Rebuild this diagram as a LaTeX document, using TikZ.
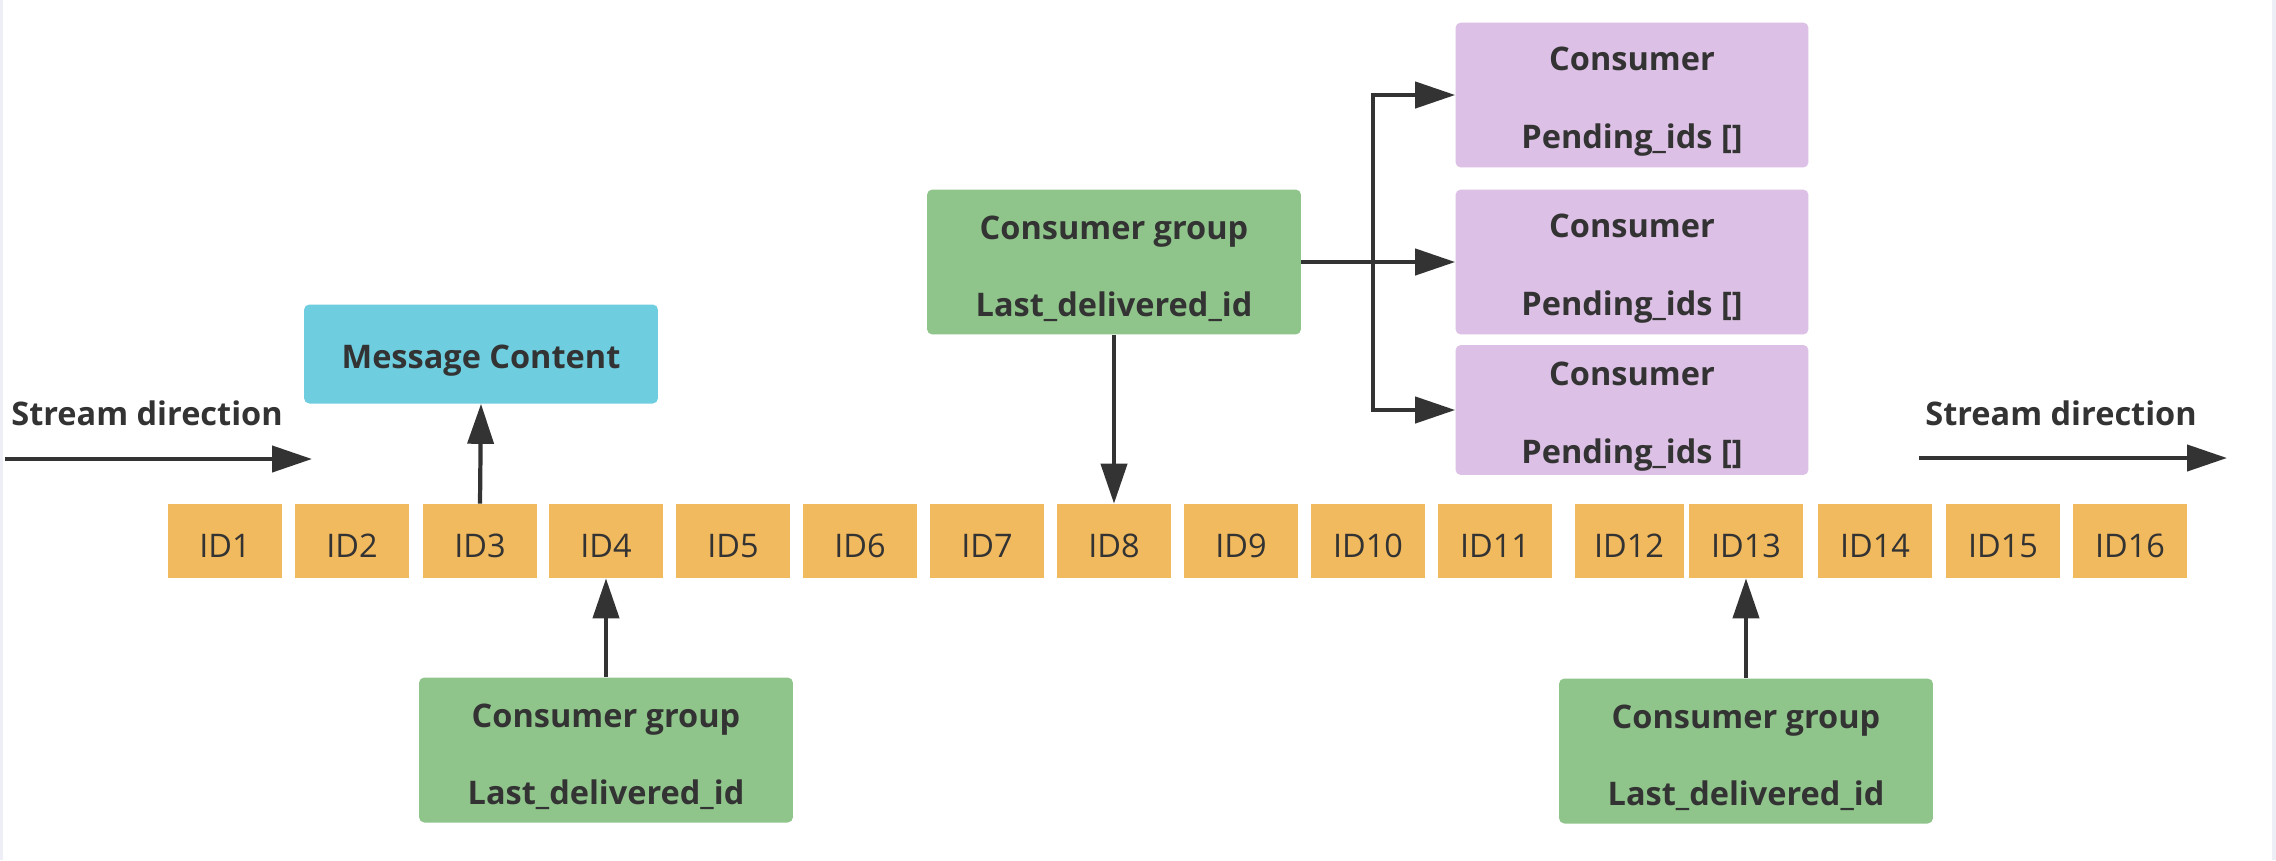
\documentclass[tikz,border=0pt]{standalone}
\usepackage{fontspec}
\setmainfont{Open Sans}
\usetikzlibrary{positioning,arrows.meta}
\definecolor{idorange}{RGB}{242,186,94}
\definecolor{grpgreen}{RGB}{143,197,139}
\definecolor{msgcyan}{RGB}{110,205,222}
\definecolor{conpurple}{RGB}{220,192,229}
\definecolor{inkgray}{RGB}{51,51,51}
\definecolor{edgegray}{RGB}{238,238,246}
\newcommand{\padtop}{\rule{0pt}{21pt}}

\begin{document}
\begin{tikzpicture}[x=0.02cm,y=-0.02cm,
        idbox/.style={fill=idorange,minimum width=2.28cm,minimum height=1.48cm,inner sep=0pt,text height=19pt,text depth=0pt,text=inkgray,font=\fontsize{18.5}{22}\selectfont},
        box/.style={rounded corners=3pt,inner sep=0pt,align=center,text=inkgray,font=\bfseries\fontsize{18.5}{44}\selectfont},
        groupbox/.style={box,fill=grpgreen,minimum width=7.48cm,minimum height=2.9cm},
        consumerbox/.style={box,fill=conpurple,minimum width=7.06cm,minimum height=2.9cm},
        streamlabel/.style={anchor=base west,inner sep=0pt,text=inkgray,font=\bfseries\fontsize{18.5}{22}\selectfont},
        arr/.style={-{Triangle[length=0.8cm,width=0.52cm]},line width=2.4pt,draw=inkgray}]
        \useasboundingbox (0,0) rectangle (2276,860);
        \fill[white] (0,0) rectangle (2276,860);
        \fill[edgegray] (0,0) rectangle (3,860);
        \fill[edgegray] (2272,0) rectangle (2276,860);

        \node[idbox] (id1) at (225,541) {ID1};
        \node[idbox] (id2) at (352,541) {ID2};
        \node[idbox] (id3) at (480,541) {ID3};
        \node[idbox] (id4) at (606,541) {ID4};
        \node[idbox] (id5) at (733,541) {ID5};
        \node[idbox] (id6) at (860,541) {ID6};
        \node[idbox] (id7) at (987,541) {ID7};
        \node[idbox] (id8) at (1114,541) {ID8};
        \node[idbox] (id9) at (1241,541) {ID9};
        \node[idbox] (id10) at (1368,541) {ID10};
        \node[idbox] (id11) at (1495,541) {ID11};
        \node[idbox,minimum width=2.18cm] (id12) at (1629,541) {ID12};
        \node[idbox] (id13) at (1746,541) {ID13};
        \node[idbox] (id14) at (1875,541) {ID14};
        \node[idbox] (id15) at (2003,541) {ID15};
        \node[idbox] (id16) at (2130,541) {ID16};

        \node[box,fill=msgcyan,minimum width=7.08cm,minimum height=1.98cm] (msg) at (481,354) {\padtop Message Content};
        \node[groupbox] (grptop) at (1114,262) {\padtop Consumer group\\Last\_delivered\_id};
        \node[groupbox] (grpleft) at (606,750) {\padtop Consumer group\\Last\_delivered\_id};
        \node[groupbox] (grpright) at (1746,751) {\padtop Consumer group\\Last\_delivered\_id};
        \node[consumerbox] (con1) at (1632,95) {\padtop Consumer\\Pending\_ids []};
        \node[consumerbox] (con2) at (1632,262) {\padtop Consumer\\Pending\_ids []};
        \node[consumerbox,minimum height=2.6cm] (con3) at (1632,410) {\padtop Consumer\\Pending\_ids []};

        \node[streamlabel] (streaml) at (11,425) {Stream direction};
        \node[streamlabel] (streamr) at (1925,425) {Stream direction};
        \coordinate (inl) at (5,459);
        \coordinate (outl) at (312,459);
        \coordinate (inr) at (1919,458);
        \coordinate (outr) at (2227,458);
        \coordinate (fork) at (1373,262);

        \draw[arr] (inl) -- (outl);
        \draw[arr] (inr) -- (outr);
        \draw[arr] (id3.north) -- (msg.south);
        \draw[arr] (grptop.south) -- (id8.north);
        \draw[arr] (grpleft.north) -- (id4.south);
        \draw[arr] (grpright.north) -- (id13.south);
        \draw[arr] (grptop.east) -- (con2.west);
        \draw[arr] (fork) |- (con1.west);
        \draw[arr] (fork) |- (con3.west);
    \end{tikzpicture}
\end{document}
